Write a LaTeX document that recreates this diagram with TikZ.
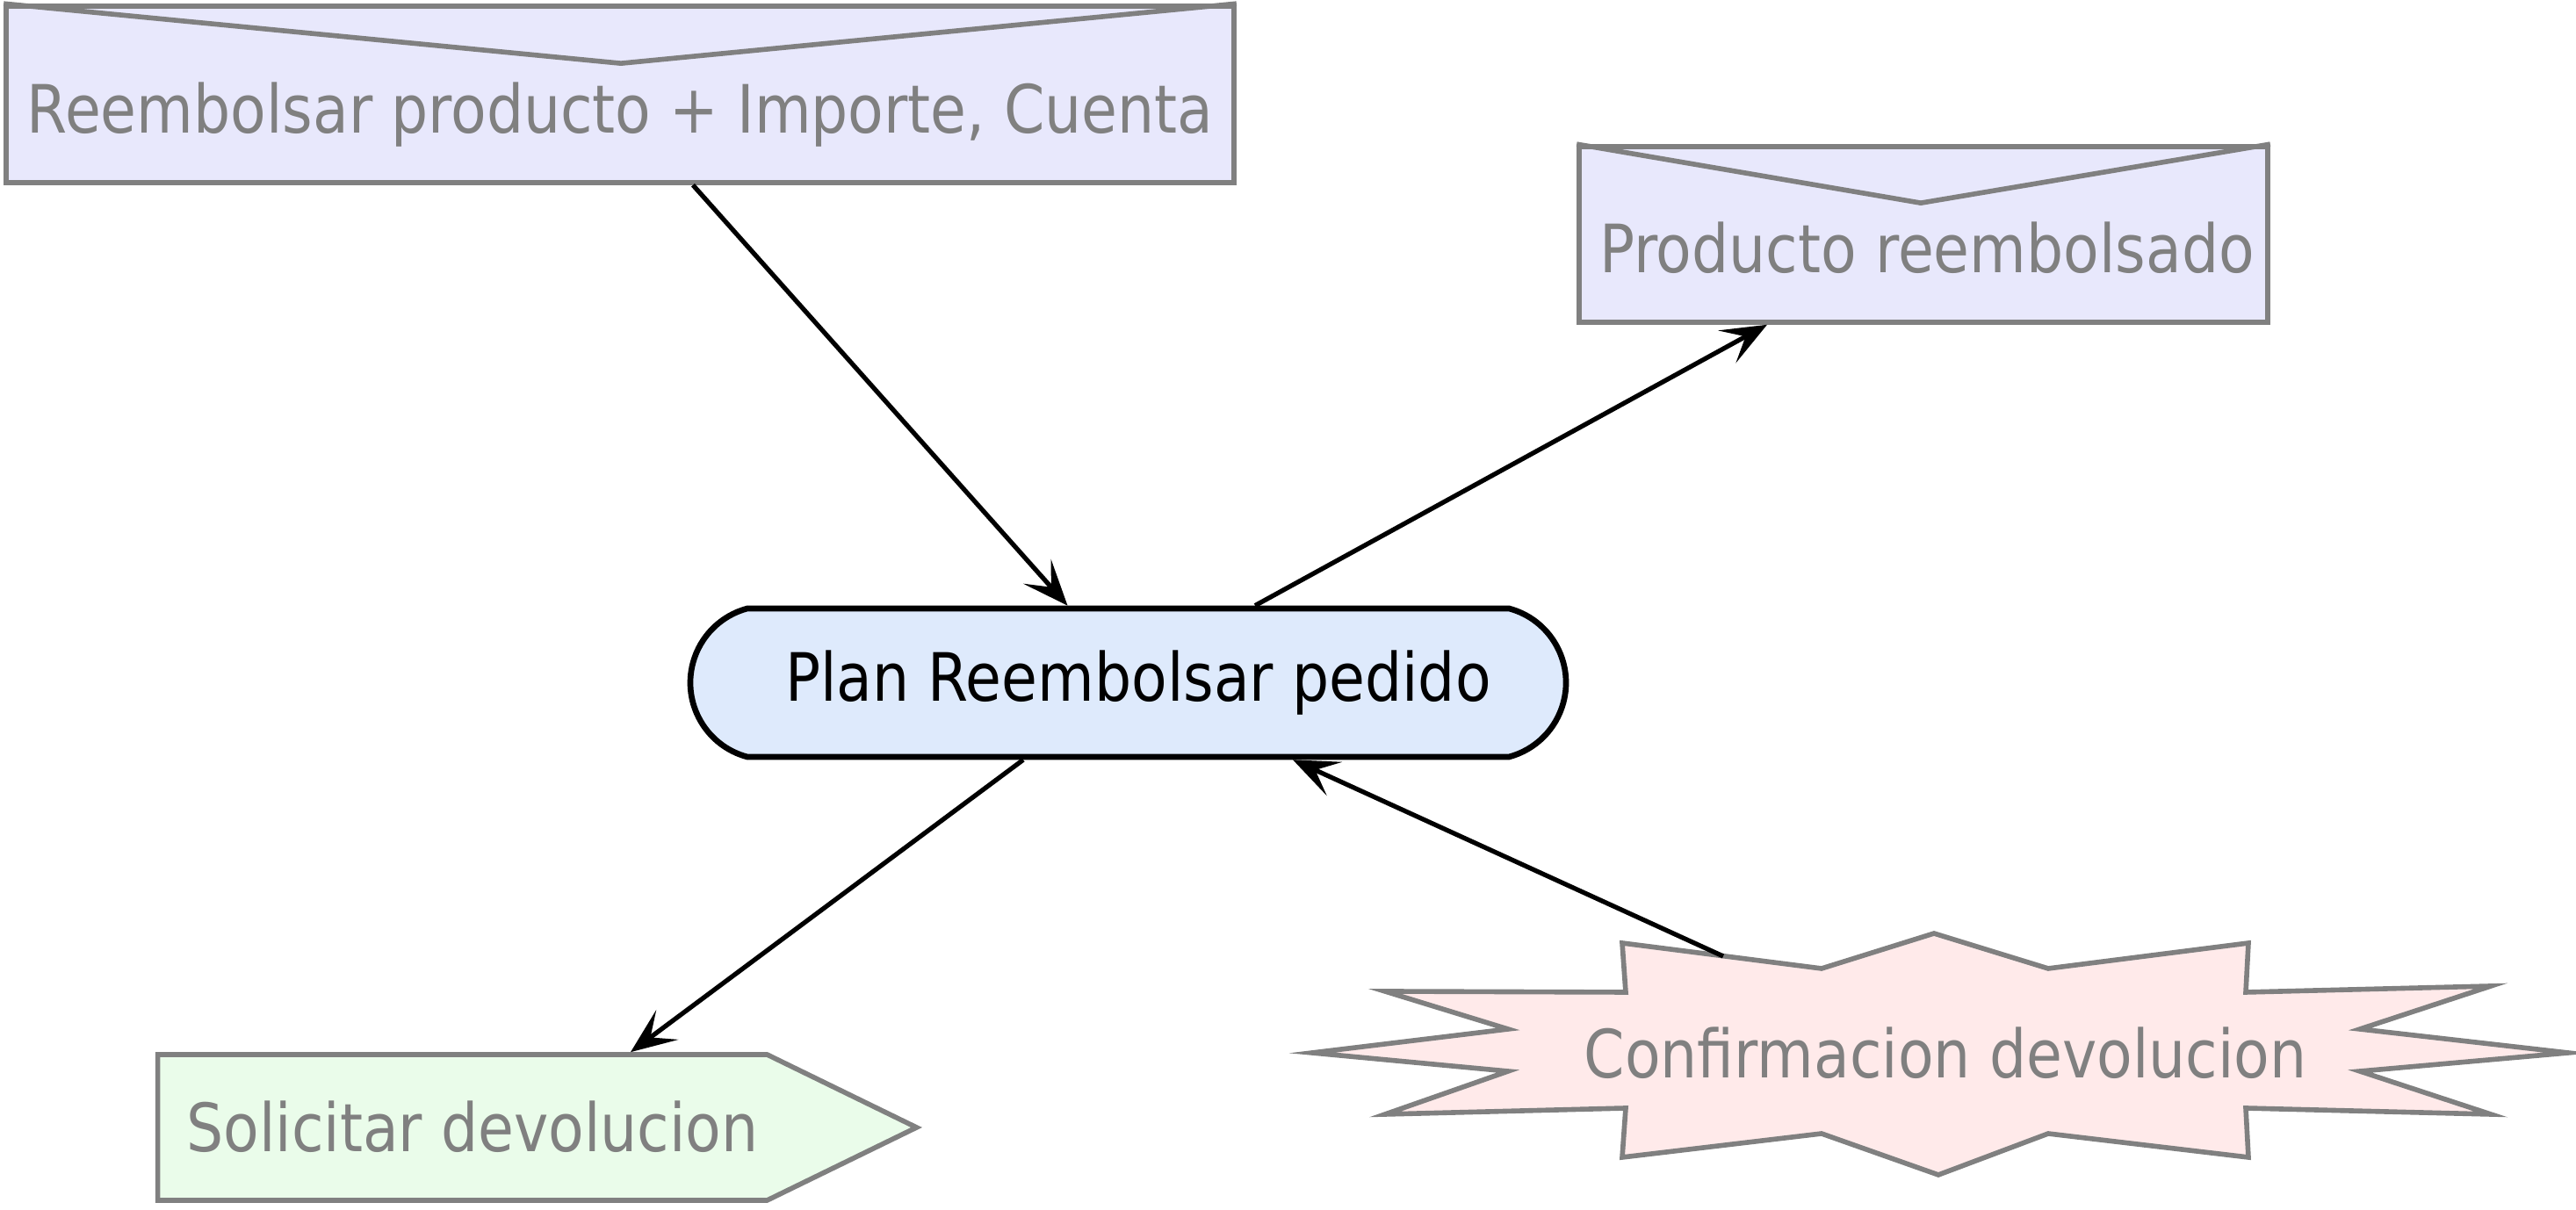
\documentclass[tikz,border=0pt]{standalone}
\usepackage{fontspec}
\setmainfont{DejaVu Sans}[FakeStretch=0.875]
\usetikzlibrary{arrows.meta,positioning,shapes.misc,shapes.symbols}

\definecolor{linegray}{RGB}{128,128,128}
\definecolor{msgfill}{RGB}{232,232,252}
\definecolor{planfill}{RGB}{222,234,252}
\definecolor{sendfill}{RGB}{234,252,234}
\definecolor{eventfill}{RGB}{255,234,234}

\begin{document}
\begin{tikzpicture}[
>={Stealth[length=5.2mm,width=4.2mm,inset=2.4mm]},
every node/.style={font=\fontsize{21.6pt}{26pt}\selectfont},
msg/.style={rectangle, draw=linegray, fill=msgfill, line width=1.6pt, inner sep=0pt},
msgfold/.style={draw=linegray, line width=1.6pt},
txt/.style={text=linegray, inner sep=0pt, anchor=base},
plan/.style={rounded rectangle, rounded rectangle arc length=150, draw=black, fill=planfill, line width=1.9pt, minimum width=9.97cm, minimum height=1.69cm, inner sep=0pt},
send/.style={signal, signal to=east, signal pointer angle=52, draw=linegray, fill=sendfill, line width=1.6pt, minimum width=8.64cm, minimum height=1.66cm, inner sep=0pt},
burst/.style={draw=linegray, fill=eventfill, line width=1.6pt},
flow/.style={->, draw=black, line width=1.5pt},
]
\useasboundingbox (0,0) rectangle (29.33,13.78);

%Nodes
\node[plan]    (plan)     at (12.845,6.005)  {\hspace*{2.3mm}Plan Reembolsar pedido};
\node[msg, minimum width=13.98cm, minimum height=2.01cm] (refund)   at (7.06,12.705)  {};
\node[msg, minimum width=7.84cm, minimum height=2cm]     (refunded) at (21.90,11.11)  {};
\node[send]    (ask)      at (5.265,0.94)    {};

\draw[msgfold] (refund.north west) -- ([shift={(0.01,-0.68)}]refund.north) -- (refund.north east);
\draw[msgfold] (refunded.north west) -- ([shift={(-0.03,-0.67)}]refunded.north) -- (refunded.north east);

\draw[burst] (22.02,3.15) -- (23.32,2.75) -- (25.60,3.04) -- (25.57,2.48) -- (28.36,2.55) -- (26.87,2.06)
  -- (29.24,1.79) -- (26.87,1.58) -- (28.36,1.09) -- (25.57,1.16) -- (25.60,0.60) -- (23.32,0.87)
  -- (22.07,0.40) -- (20.74,0.87) -- (18.47,0.60) -- (18.51,1.16) -- (15.77,1.09) -- (17.17,1.58)
  -- (14.94,1.79) -- (17.17,2.06) -- (15.77,2.49) -- (18.51,2.48) -- (18.47,3.04) -- (20.74,2.75) -- cycle;
\coordinate (confout) at (19.62,2.89);

%Labels
\node[txt] (refundlbl)   at ([yshift=-4.45mm]refund.center)   {Reembolsar producto + Importe, Cuenta};
\node[txt] (refundedlbl) at ([shift={(0.04,-0.44)}]refunded.center) {Producto reembolsado};
\node[txt] (asklbl)      at ([shift={(0.115,-0.28)}]ask.center) {Solicitar devolucion};
\node[txt] (conf)        at (22.15,1.50)     {Confirmacion devolucion};

%Lines
\draw[flow] ([xshift=0.83cm]refund.south) -- ([xshift=-0.69cm]plan.north);
\draw[flow] ([xshift=1.445cm]plan.north) -- ([xshift=-1.78cm]refunded.south);
\draw[flow] ([xshift=-1.195cm]plan.south) -- ([xshift=1.915cm]ask.north);
\draw[flow] (confout) -- ([xshift=1.875cm]plan.south);
\end{tikzpicture}
\end{document}
